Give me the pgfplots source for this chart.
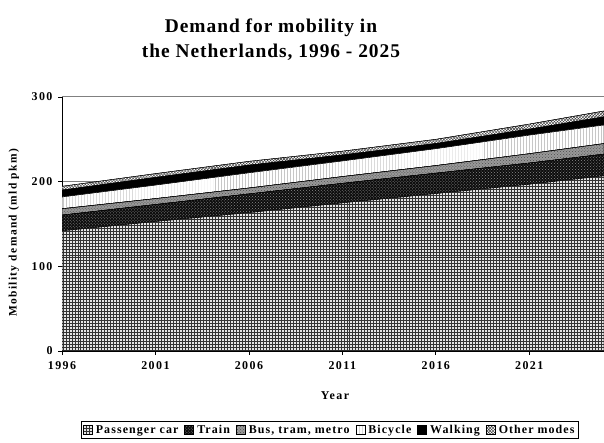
\documentclass[border=0pt]{standalone}
\usepackage{fontspec}
\setmainfont{Liberation Serif}
\newfontfamily\widefont[LetterSpace=12]{Liberation Serif}
\newfontfamily\legfont[LetterSpace=9]{Liberation Serif}
\newfontfamily\titlefont[LetterSpace=5]{Liberation Serif}
\usepackage{pgfplots}
\pgfplotsset{compat=1.18}
\usetikzlibrary{patterns}

\pgfplotstableread{
year car train bus bicycle walking other
1996 142 18.5 7.5 14 8 4.5
2001 153 20 7 16 9 4.5
2006 163.5 22 7 18 9 4.5
2011 175 23 8 18.5 7 4.5
2016 186 24 9 20 6 5
2021 197 25 11 22 7 6
2025 207 25.5 12.5 22 9.5 7
}\mobility

\begin{document}
\begin{tikzpicture}
\begin{axis}[
  at={(62bp,92bp)}, anchor=south west,
  scale only axis, width=542bp, height=254bp,
  xmin=1996, xmax=2025, ymin=0, ymax=300,
  stack plots=y,
  axis x line*=bottom, axis y line*=left,
  axis line style={-, black, line width=0.9pt},
  xtick={1996,2001,2006,2011,2016,2021},
  xticklabels={1996,2001,2006,2011,2016,2021},
  ytick={0,100,200,300},
  yticklabels={0,100,200,300},
  tick align=outside, major tick length=4bp,
  tick style={black, line width=0.7pt},
  ymajorgrids, grid style={black!50, line width=1pt},
  ticklabel style={font=\widefont\bfseries\fontsize{12}{14}\selectfont},
  xticklabel style={yshift=-3bp},
  yticklabel style={xshift=-2bp},
  legend columns=-1,
  legend image code/.code={\draw[#1] (0bp,-4.5bp) rectangle (9bp,4.5bp);},
  legend style={at={(0.494,-0.311)}, anchor=center, draw=black, line width=0.8pt,
    font=\legfont\bfseries\fontsize{12}{14}\selectfont, inner sep=1.5pt,
    /tikz/every even column/.append style={column sep=4pt},
    /tikz/every odd column/.append style={column sep=1.5pt}},
  legend cell align=left,
]
\addplot[draw=black, line width=0.4pt, fill=black!10, postaction={pattern=grid, pattern color=black!80}] table[x=year,y=car]{\mobility} \closedcycle;
\addplot[draw=black, line width=0.4pt, fill=black!95, postaction={pattern=crosshatch dots, pattern color=black!45}] table[x=year,y=train]{\mobility} \closedcycle;
\addplot[draw=black, line width=0.4pt, fill=black!40, postaction={pattern=crosshatch dots, pattern color=black!70}] table[x=year,y=bus]{\mobility} \closedcycle;
\addplot[draw=black, line width=0.4pt, fill=white, postaction={pattern=vertical lines, pattern color=black!22}] table[x=year,y=bicycle]{\mobility} \closedcycle;
\addplot[draw=black, line width=0.4pt, fill=black] table[x=year,y=walking]{\mobility} \closedcycle;
\addplot[draw=black, line width=0.4pt, fill=white, postaction={pattern=crosshatch, pattern color=black!75}] table[x=year,y=other]{\mobility} \closedcycle;
\legend{Passenger car, Train, {Bus, tram, metro}, Bicycle, Walking, Other modes}
\end{axis}
\node[font=\titlefont\bfseries\fontsize{19.5}{23}\selectfont] at (271bp,415bp) {Demand for mobility in};
\node[font=\titlefont\bfseries\fontsize{19.5}{23}\selectfont] at (271bp,391bp) {the Netherlands, 1996 - 2025};
\node[font=\widefont\bfseries\fontsize{11.5}{13}\selectfont, rotate=90] at (14bp,210bp) {Mobility demand (mld pkm)};
\node[font=\widefont\bfseries\fontsize{12}{14}\selectfont] at (335bp,47bp) {Year};
\pgfresetboundingbox
\path (0bp,0bp) rectangle (604bp,443bp);
\end{tikzpicture}
\end{document}
